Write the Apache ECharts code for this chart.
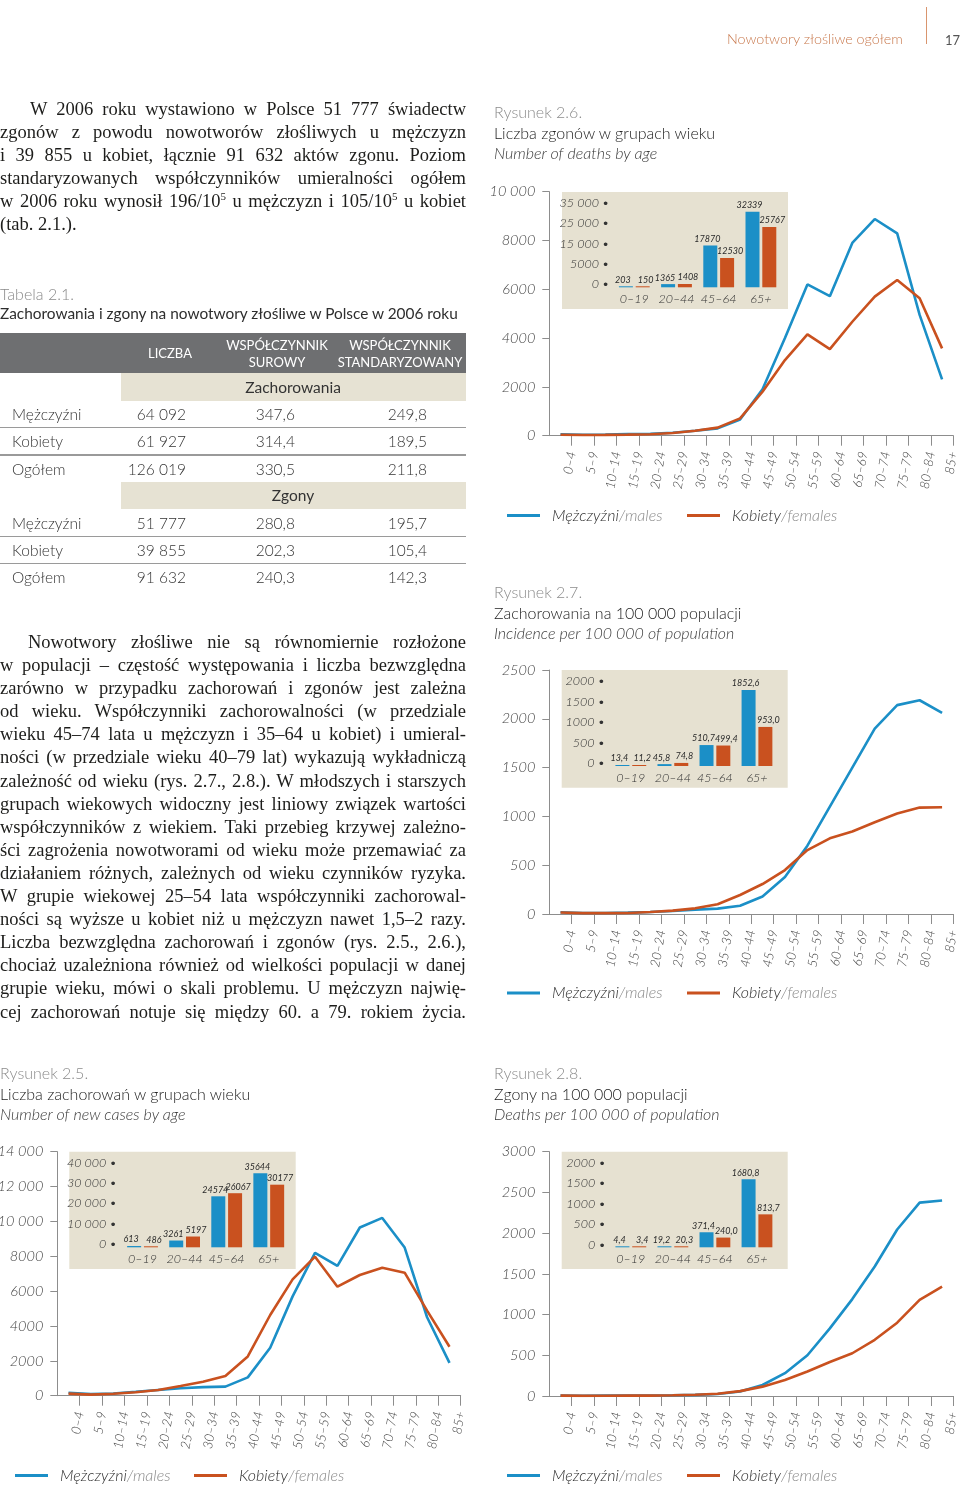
<!DOCTYPE html>
<html lang="pl">
<head>
<meta charset="utf-8">
<title>Nowotwory złośliwe ogółem</title>
<script src="https://cdn.jsdelivr.net/npm/echarts@6/dist/echarts.min.js"></script>
<style>
html,body{margin:0;padding:0;background:#fff;}
body{width:960px;height:1487px;position:relative;overflow:hidden;font-family:Lato,'Open Sans',sans-serif;font-weight:300;}
#chart{position:absolute;left:0;top:0;width:960px;height:1487px;}
.tx{position:absolute;white-space:nowrap;}
.para{position:absolute;left:0;width:466px;font-family:'Liberation Serif','Times New Roman',serif;font-size:18.5px;color:#1d1d1b;font-weight:400;}
.ln{height:23.1px;line-height:23.1px;text-align:justify;text-align-last:justify;}
.ln.last{text-align:left;text-align-last:left;}
.sup{font-size:11px;position:relative;top:-7px;}
.box{position:absolute;}
</style>
</head>
<body>
<div id="chart"></div>
<script>
// ---------------- data ----------------
const ageGroups = ['0–4','5–9','10–14','15–19','20–24','25–29','30–34','35–39','40–44','45–49','50–54','55–59','60–64','65–69','70–74','75–79','80–84','85+'];
const broadGroups = ['0–19','20–44','45–64','65+'];

// Rys. 2.6 – number of deaths by age
const deathsMales   = [55, 40, 45, 63, 80, 120, 200, 300, 665, 1900, 4000, 6200, 5720, 7900, 8880, 8290, 4950, 2310];
const deathsFemales = [40, 30, 35, 45, 60, 110, 200, 330, 710, 1800, 3100, 4150, 3550, 4670, 5700, 6380, 5630, 3580];
const deathsBroadMales   = [203, 1365, 17870, 32339];
const deathsBroadFemales = [150, 1408, 12530, 25767];
const deathsInsetTicks = ['0', '5000', '15 000', '25 000', '35 000'];

// Rys. 2.7 – incidence per 100 000
const incMales   = [18, 10, 11, 14, 20, 30, 45, 55, 85, 180, 380, 700, 1100, 1500, 1900, 2140, 2190, 2060];
const incFemales = [16, 9, 9, 11, 20, 35, 58, 100, 195, 307, 450, 655, 775, 845, 940, 1030, 1090, 1093];
const incBroadMales   = [13.4, 45.8, 510.7, 1852.6];
const incBroadFemales = [11.2, 74.8, 499.4, 953.0];
const rateInsetTicks = ['0', '500', '1000', '1500', '2000'];

// Rys. 2.5 – number of new cases by age
const casesMales   = [170, 90, 130, 223, 330, 430, 490, 520, 1050, 2750, 5700, 8200, 7450, 9650, 10200, 8500, 4500, 1880];
const casesFemales = [120, 60, 110, 196, 325, 555, 800, 1130, 2250, 4630, 6675, 7975, 6255, 6925, 7345, 7060, 4880, 2810];
const casesBroadMales   = [613, 3261, 24574, 35644];
const casesBroadFemales = [486, 5197, 26067, 30177];
const casesInsetTicks = ['0', '10 000', '20 000', '30 000', '40 000'];

// Rys. 2.8 – deaths per 100 000
const mortMales   = [5, 3, 4, 5, 6, 9, 14, 24, 55, 135, 280, 500, 830, 1190, 1590, 2045, 2375, 2400];
const mortFemales = [4, 2, 3, 4, 5, 9, 16, 28, 60, 115, 196, 300, 418, 525, 690, 900, 1180, 1342];
const mortBroadMales   = [4.4, 19.2, 371.4, 1680.8];
const mortBroadFemales = [3.4, 20.3, 240.0, 813.7];

// Tabela 2.1
const tableRowLabels = ['Mężczyźni', 'Kobiety', 'Ogółem'];
const tableIncidence = [['64 092', '347,6', '249,8'], ['61 927', '314,4', '189,5'], ['126 019', '330,5', '211,8']];
const tableDeaths    = [['51 777', '280,8', '195,7'], ['39 855', '202,3', '105,4'], ['91 632', '240,3', '142,3']];

// ---------------- html text ----------------
function put(x, y, html, o) {
  o = o || {};
  const d = document.createElement('div');
  d.className = 'tx';
  d.innerHTML = html;
  const fs = o.fs || 15.5;
  d.style.fontSize = fs + 'px';
  d.style.lineHeight = (o.lh || Math.round(fs * 1.25)) + 'px';
  d.style.color = o.color || '#3a3a3a';
  if (o.italic) d.style.fontStyle = 'italic';
  if (o.weight) d.style.fontWeight = o.weight;
  if (o.ta) d.style.textAlign = o.ta;
  d.style.left = x + 'px';
  d.style.top = y + 'px';
  const ax = o.align === 'right' ? '-100%' : (o.align === 'center' ? '-50%' : '0');
  d.style.transform = 'translate(' + ax + ',-50%)';
  document.body.appendChild(d);
}
function box(x, y, w, h, bg) {
  const d = document.createElement('div');
  d.className = 'box';
  d.style.cssText = 'left:' + x + 'px;top:' + y + 'px;width:' + w + 'px;height:' + h + 'px;background:' + bg + ';';
  document.body.appendChild(d);
}
function para(top, lines, indent, lastLeft) {
  const p = document.createElement('div');
  p.className = 'para';
  p.style.top = top + 'px';
  lines.forEach((t, i) => {
    const l = document.createElement('div');
    l.className = 'ln' + (lastLeft && i === lines.length - 1 ? ' last' : '');
    if (i === 0) l.style.paddingLeft = indent + 'px';
    l.innerHTML = t;
    p.appendChild(l);
  });
  document.body.appendChild(p);
}

// page header
put(727, 39, 'Nowotwory złośliwe ogółem', {fs: 14.3, color: '#c97a4f'});
box(926, 7, 1, 37, '#d9956e');
put(945, 40, '17', {fs: 13, color: '#555', weight: 400});

para(98, [
  'W 2006 roku wystawiono w Polsce 51 777 świadectw',
  'zgonów z powodu nowotworów złośliwych u mężczyzn',
  'i 39 855 u kobiet, łącznie 91 632 aktów zgonu. Poziom',
  'standaryzowanych współczynników umieralności ogółem',
  'w 2006 roku wynosił 196/10<span class="sup">5</span> u mężczyzn i 105/10<span class="sup">5</span> u kobiet',
  '(tab. 2.1.).'
], 30, true);

para(631, [
  'Nowotwory złośliwe nie są równomiernie rozłożone',
  'w populacji – częstość występowania i liczba bezwzględna',
  'zarówno w przypadku zachorowań i zgonów jest zależna',
  'od wieku. Współczynniki zachorowalności (w przedziale',
  'wieku 45–74 lata u mężczyzn i 35–64 u kobiet) i umieral-',
  'ności (w przedziale wieku 40–79 lat) wykazują wykładniczą',
  'zależność od wieku (rys. 2.7., 2.8.). W młodszych i starszych',
  'grupach wiekowych widoczny jest liniowy związek wartości',
  'współczynników z wiekiem. Taki przebieg krzywej zależno-',
  'ści zagrożenia nowotworami od wieku może przemawiać za',
  'działaniem różnych, zależnych od wieku czynników ryzyka.',
  'W grupie wiekowej 25–54 lata współczynniki zachorowal-',
  'ności są wyższe u kobiet niż u mężczyzn nawet 1,5–2 razy.',
  'Liczba bezwzględna zachorowań i zgonów (rys. 2.5., 2.6.),',
  'chociaż uzależniona również od wielkości populacji w danej',
  'grupie wieku, mówi o skali problemu. U mężczyzn najwię-',
  'cej zachorowań notuje się między 60. a 79. rokiem życia.'
], 28, false);

// table
put(0, 294, 'Tabela 2.1.', {fs: 16, color: '#8a8a8a'});
put(0, 313, 'Zachorowania i zgony na nowotwory złośliwe w Polsce w 2006 roku', {fs: 15.4, color: '#2e2e2e', weight: 400});
box(0, 333, 466, 40, '#6e6f71');
put(170, 353, 'LICZBA', {fs: 13, color: '#fff', align: 'center', weight: 400});
put(277, 353, 'WSPÓŁCZYNNIK<br>SUROWY', {fs: 13, lh: 16.5, color: '#fff', align: 'center', ta: 'center', weight: 400});
put(400, 353, 'WSPÓŁCZYNNIK<br>STANDARYZOWANY', {fs: 13, lh: 16.5, color: '#fff', align: 'center', ta: 'center', weight: 400});
function tableBlock(bandTop, title, rows) {
  box(121, bandTop, 345, 27.5, '#e6e2d3');
  put(293, bandTop + 13.5, title, {fs: 15.5, color: '#333', align: 'center', weight: 400});
  rows.forEach((r, i) => {
    const cy = bandTop + 27.5 + 13.6 + i * 27.2;
    put(12, cy, tableRowLabels[i], {fs: 15.5, color: '#333'});
    put(186, cy, r[0], {fs: 15.5, color: '#333', align: 'right'});
    put(295, cy, r[1], {fs: 15.5, color: '#333', align: 'right'});
    put(427, cy, r[2], {fs: 15.5, color: '#333', align: 'right'});
    if (i < rows.length - 1) box(0, bandTop + 27.5 + 27.2 * (i + 1) - 0.5, 466, 1.2, '#9a9a9a');
  });
}
tableBlock(373, 'Zachorowania', tableIncidence);
tableBlock(481.5, 'Zgony', tableDeaths);

// figure titles
function figTitle(x, y, a, b, c) {
  put(x, y, a, {fs: 16, color: '#8c8c8c'});
  put(x, y + 20.5, b, {fs: 16, color: '#222'});
  put(x, y + 41, c, {fs: 16, color: '#3a3a3a', italic: true});
}
figTitle(494, 112, 'Rysunek 2.6.', 'Liczba zgonów w grupach wieku', 'Number of deaths by age');
figTitle(494, 592, 'Rysunek 2.7.', 'Zachorowania na 100 000 populacji', 'Incidence per 100 000 of population');
figTitle(0, 1073, 'Rysunek 2.5.', 'Liczba zachorowań w grupach wieku', 'Number of new cases by age');
figTitle(494, 1073, 'Rysunek 2.8.', 'Zgony na 100 000 populacji', 'Deaths per 100 000 of population');

// ---------------- charts ----------------
const AX = '#8d8d8d', TX = '#444';
const BLUE = '#1b8fc7', ORANGE = '#c9511f', BEIGE = '#e6e1d1';
const FONT = 'Lato';
const MALE = 'Mężczyźni/males', FEMALE = 'Kobiety/females';
const grid = [], xAxis = [], yAxis = [], series = [], legend = [], graphic = [];

const fmtTick = v => v >= 10000 ? Math.floor(v / 1000) + ' ' + String(v % 1000).padStart(3, '0') : String(v);
const fmtCount = v => String(v);
const fmtRate = v => v.toFixed(1).replace('.', ',');

function mkLegend(name, x, top) {
  return {
    data: [name], left: x, top: top, padding: 0, itemWidth: 33, itemHeight: 3, icon: 'rect', selectedMode: false,
    formatter: n => { const p = n.split('/'); return '{a|' + p[0] + '}{b|/' + p[1] + '}'; },
    textStyle: {
      padding: [0, 0, 0, 7],
      rich: {
        a: {fontSize: 16, fontStyle: 'italic', color: '#2e2e2e', fontFamily: FONT, fontWeight: 300, lineHeight: 20},
        b: {fontSize: 16, fontStyle: 'italic', color: '#8a8a8a', fontFamily: FONT, fontWeight: 300, lineHeight: 20}
      }
    }
  };
}

function addMain(g, males, females, yMax, yInt, legX, legTop) {
  const gi = grid.length;
  grid.push({left: g.l, top: g.t, width: g.w, height: g.h, containLabel: false, outerBoundsMode: 'none'});
  const xi = xAxis.length;
  xAxis.push({gridIndex: gi, type: 'category', data: ageGroups, boundaryGap: true, show: false});
  xAxis.push({
    gridIndex: gi, type: 'category', data: [''].concat(ageGroups), boundaryGap: false, position: 'bottom',
    axisLine: {show: true, lineStyle: {color: AX, width: 1}},
    axisTick: {show: true, length: 10, interval: (i) => i > 0, lineStyle: {color: AX, width: 1}},
    axisLabel: {interval: 0, rotate: 80, margin: 16, fontSize: 13, fontStyle: 'italic', color: TX, fontFamily: FONT, fontWeight: 300},
    splitLine: {show: false}
  });
  const yi = yAxis.length;
  yAxis.push({
    gridIndex: gi, type: 'value', min: 0, max: yMax, interval: yInt,
    axisLine: {show: true, lineStyle: {color: AX, width: 1}},
    axisTick: {show: true, length: 7, lineStyle: {color: AX, width: 1}},
    axisLabel: {margin: 14, fontSize: 14.5, fontStyle: 'italic', color: TX, fontFamily: FONT, fontWeight: 300, formatter: fmtTick},
    splitLine: {show: false}
  });
  series.push({name: MALE, type: 'line', xAxisIndex: xi, yAxisIndex: yi, data: males, symbol: 'none', smooth: false,
    lineStyle: {width: 2.6, color: BLUE}, itemStyle: {color: BLUE}, z: 2});
  series.push({name: FEMALE, type: 'line', xAxisIndex: xi, yAxisIndex: yi, data: females, symbol: 'none', smooth: false,
    lineStyle: {width: 2.6, color: ORANGE}, itemStyle: {color: ORANGE}, z: 3});
  legend.push(mkLegend(MALE, legX[0], legTop), mkLegend(FEMALE, legX[1], legTop));
}

function addInset(bg, lab, bars, ticks, males, females, max, fmtVal) {
  graphic.push({type: 'rect', shape: {x: bg.x, y: bg.y, width: bg.w, height: bg.h}, style: {fill: BEIGE}, z: 5, silent: true});
  // tick-label axis
  const gl = grid.length;
  grid.push({left: lab.x, top: lab.t, width: 1, height: lab.b - lab.t, containLabel: false, outerBoundsMode: 'none'});
  const xl = xAxis.length, yl = yAxis.length;
  xAxis.push({gridIndex: gl, type: 'value', show: false});
  yAxis.push({gridIndex: gl, type: 'category', data: ticks, boundaryGap: false, z: 10,
    axisLine: {show: false}, axisTick: {show: false}, splitLine: {show: false},
    axisLabel: {interval: 0, margin: 3, formatter: '{value} •', fontSize: 12.5, fontStyle: 'italic', color: '#333', fontFamily: FONT, fontWeight: 300}});
  series.push({type: 'scatter', xAxisIndex: xl, yAxisIndex: yl, data: [], silent: true});
  // bars
  const gb = grid.length;
  grid.push({left: bars.l, top: bars.b - bars.h, width: bars.w, height: bars.h, containLabel: false, outerBoundsMode: 'none'});
  const xb = xAxis.length, yb = yAxis.length;
  xAxis.push({gridIndex: gb, type: 'category', data: broadGroups, z: 10,
    axisLine: {show: false}, axisTick: {show: false}, splitLine: {show: false},
    axisLabel: {interval: 0, margin: 5, fontSize: 12.5, fontStyle: 'italic', color: '#333', fontFamily: FONT, fontWeight: 300}});
  yAxis.push({gridIndex: gb, type: 'value', min: 0, max: max, show: false, splitLine: {show: false}});
  const lbl = (dx) => ({show: true, position: 'top', distance: 2, offset: [dx, 0], fontSize: 9, fontStyle: 'italic',
    color: '#2a2a2a', fontFamily: FONT, fontWeight: 400, formatter: p => fmtVal(p.value)});
  series.push({name: 'bar-m', type: 'bar', xAxisIndex: xb, yAxisIndex: yb, data: males, barWidth: 14, barGap: '20%',
    barMinHeight: 1, itemStyle: {color: BLUE}, z: 10, label: lbl(-3)});
  series.push({name: 'bar-f', type: 'bar', xAxisIndex: xb, yAxisIndex: yb, data: females, barWidth: 14, barGap: '20%',
    barMinHeight: 1, itemStyle: {color: ORANGE}, z: 10, label: lbl(3)});
}

// Rys. 2.6
addMain({l: 549.3, t: 191.7, w: 404, h: 244}, deathsMales, deathsFemales, 10000, 2000, [507, 687], 507.5);
addInset({x: 562, y: 192, w: 226, h: 117}, {x: 612.3, t: 202.7, b: 284.3}, {l: 613.2, w: 168.8, b: 287.3, h: 81.9},
  deathsInsetTicks, deathsBroadMales, deathsBroadFemales, 35000, fmtCount);
// Rys. 2.7
addMain({l: 549.3, t: 670, w: 404, h: 244}, incMales, incFemales, 2500, 500, [507, 687], 985);
addInset({x: 561.7, y: 670, w: 226, h: 117.7}, {x: 608, t: 681, b: 763.3}, {l: 609.8, w: 168.2, b: 766, h: 82},
  rateInsetTicks, incBroadMales, incBroadFemales, 2000, fmtRate);
// Rys. 2.5
addMain({l: 57.3, t: 1151.7, w: 403.4, h: 244}, casesMales, casesFemales, 14000, 2000, [15, 194], 1467.5);
addInset({x: 69.3, y: 1151.7, w: 226.4, h: 117.3}, {x: 119.7, t: 1162.5, b: 1244}, {l: 121.5, w: 168.3, b: 1247.3, h: 83},
  casesInsetTicks, casesBroadMales, casesBroadFemales, 40000, fmtCount);
// Rys. 2.8
addMain({l: 549.3, t: 1151.7, w: 404, h: 244.3}, mortMales, mortFemales, 3000, 500, [507, 687], 1467.5);
addInset({x: 561.7, y: 1151.7, w: 226, h: 117.3}, {x: 608.7, t: 1162.7, b: 1244.7}, {l: 609.8, w: 168.2, b: 1247.3, h: 81},
  rateInsetTicks, mortBroadMales, mortBroadFemales, 2000, fmtRate);

const chart = echarts.init(document.getElementById('chart'), null, {renderer: 'canvas'});
chart.setOption({
  animation: false,
  backgroundColor: 'transparent',
  textStyle: {fontFamily: FONT, fontWeight: 300},
  grid: grid, xAxis: xAxis, yAxis: yAxis, series: series, legend: legend, graphic: graphic,
  tooltip: {show: false}
});
</script>
</body>
</html>
